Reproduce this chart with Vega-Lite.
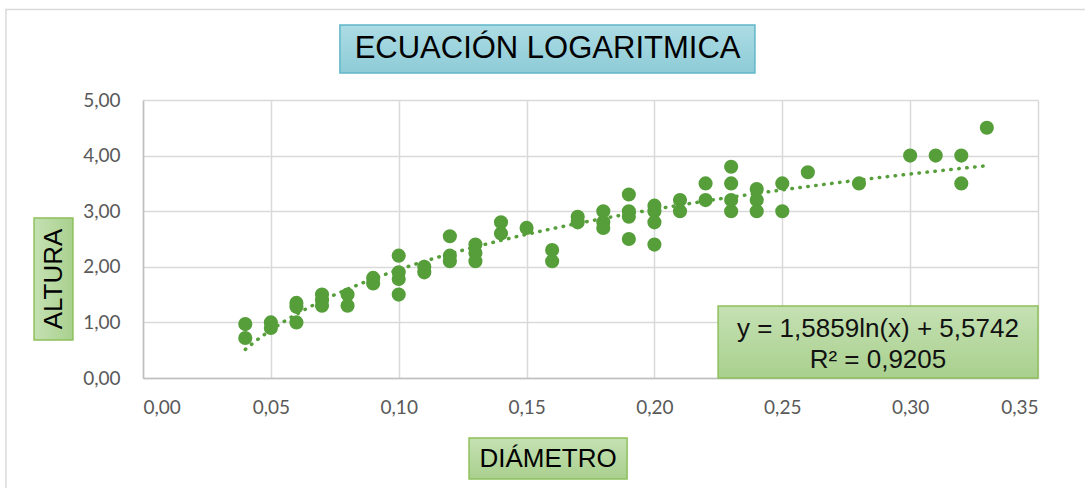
{
  "$schema": "https://vega.github.io/schema/vega-lite/v6.json",
  "autosize": "none",
  "width": 895,
  "height": 278,
  "padding": {"left": 143, "top": 100, "right": 47, "bottom": 110},
  "background": "white",
  "config": {"view": {"stroke": null}},
  "data": {
    "values": [
      {"d": 0.04, "h": 0.97}, {"d": 0.04, "h": 0.72},
      {"d": 0.05, "h": 1.0}, {"d": 0.05, "h": 0.9},
      {"d": 0.06, "h": 1.35}, {"d": 0.06, "h": 1.28}, {"d": 0.06, "h": 1.0},
      {"d": 0.07, "h": 1.5}, {"d": 0.07, "h": 1.4}, {"d": 0.07, "h": 1.3},
      {"d": 0.08, "h": 1.5}, {"d": 0.08, "h": 1.3},
      {"d": 0.09, "h": 1.8}, {"d": 0.09, "h": 1.7},
      {"d": 0.10, "h": 2.2}, {"d": 0.10, "h": 1.9}, {"d": 0.10, "h": 1.78}, {"d": 0.10, "h": 1.5},
      {"d": 0.11, "h": 2.0}, {"d": 0.11, "h": 1.9},
      {"d": 0.12, "h": 2.55}, {"d": 0.12, "h": 2.2}, {"d": 0.12, "h": 2.1},
      {"d": 0.13, "h": 2.4}, {"d": 0.13, "h": 2.25}, {"d": 0.13, "h": 2.1},
      {"d": 0.14, "h": 2.8}, {"d": 0.14, "h": 2.6},
      {"d": 0.15, "h": 2.7},
      {"d": 0.16, "h": 2.3}, {"d": 0.16, "h": 2.1},
      {"d": 0.17, "h": 2.9}, {"d": 0.17, "h": 2.8},
      {"d": 0.18, "h": 3.0}, {"d": 0.18, "h": 2.8}, {"d": 0.18, "h": 2.7},
      {"d": 0.19, "h": 3.3}, {"d": 0.19, "h": 3.0}, {"d": 0.19, "h": 2.9}, {"d": 0.19, "h": 2.5},
      {"d": 0.20, "h": 3.1}, {"d": 0.20, "h": 3.0}, {"d": 0.20, "h": 2.8}, {"d": 0.20, "h": 2.4},
      {"d": 0.21, "h": 3.2}, {"d": 0.21, "h": 3.0},
      {"d": 0.22, "h": 3.5}, {"d": 0.22, "h": 3.2},
      {"d": 0.23, "h": 3.8}, {"d": 0.23, "h": 3.5}, {"d": 0.23, "h": 3.2}, {"d": 0.23, "h": 3.0},
      {"d": 0.24, "h": 3.4}, {"d": 0.24, "h": 3.2}, {"d": 0.24, "h": 3.0},
      {"d": 0.25, "h": 3.5}, {"d": 0.25, "h": 3.0},
      {"d": 0.26, "h": 3.7},
      {"d": 0.28, "h": 3.5},
      {"d": 0.30, "h": 4.0},
      {"d": 0.31, "h": 4.0},
      {"d": 0.32, "h": 4.0}, {"d": 0.32, "h": 3.5},
      {"d": 0.33, "h": 4.5}
    ]
  },
  "layer": [
    {
      "mark": {"type": "point", "filled": true, "size": 200, "opacity": 1, "color": "#559E3A"},
      "encoding": {
        "x": {
          "field": "d", "type": "quantitative",
          "scale": {"domain": [0, 0.35], "nice": false, "zero": false},
          "axis": {
            "title": null,
            "values": [0, 0.05, 0.1, 0.15, 0.2, 0.25, 0.3, 0.35],
            "labelExpr": "replace(format(datum.value, '.2f'), '.', ',')",
            "labelFont": "Lato", "labelFontSize": 19, "labelColor": "#595959",
            "labelPadding": 20, "ticks": false, "tickSize": 0,
            "domainColor": "#bfbfbf", "domainWidth": 1.5,
            "gridColor": "#d9d9d9", "gridWidth": 1.5, "grid": true
          }
        },
        "y": {
          "field": "h", "type": "quantitative",
          "scale": {"domain": [0, 5], "nice": false, "zero": false},
          "axis": {
            "title": null,
            "values": [0, 1, 2, 3, 4, 5],
            "labelExpr": "replace(format(datum.value, '.2f'), '.', ',')",
            "labelFont": "Lato", "labelFontSize": 19, "labelColor": "#595959",
            "labelPadding": 23, "ticks": false, "tickSize": 0,
            "domainColor": "#bfbfbf", "domainWidth": 1.5,
            "gridColor": "#d9d9d9", "gridWidth": 1.5, "grid": true
          }
        }
      }
    },
    {
      "data": {"values": [{}]},
      "mark": {"type": "rect", "fill": null, "stroke": "#d9d9d9", "strokeWidth": 1.5},
      "encoding": {
        "x": {"datum": -0.0536, "type": "quantitative"},
        "x2": {"datum": 0.374},
        "y": {"datum": 6.628, "type": "quantitative"},
        "y2": {"datum": -2.2}
      }
    },
    {
      "transform": [{"regression": "h", "on": "d", "method": "log", "extent": [0.04, 0.33]}],
      "mark": {"type": "line", "color": "#559E3A", "strokeWidth": 3.5, "strokeDash": [0.5, 7.5], "strokeCap": "round"},
      "encoding": {
        "x": {"field": "d", "type": "quantitative"},
        "y": {"field": "h", "type": "quantitative"}
      }
    },
    {
      "data": {"values": [{}]},
      "mark": {
        "type": "rect", "stroke": "#8dc05a", "strokeWidth": 1.5,
        "fill": {"gradient": "linear", "x1": 0, "y1": 0, "x2": 0, "y2": 1,
                 "stops": [{"offset": 0, "color": "#c5e1b3"}, {"offset": 1, "color": "#a9d08e"}]}
      },
      "encoding": {
        "x": {"datum": 0.2249, "type": "quantitative"},
        "x2": {"datum": 0.35},
        "y": {"datum": 1.295, "type": "quantitative"},
        "y2": {"datum": 0.0}
      }
    },
    {
      "data": {"values": [{}]},
      "mark": {"type": "text", "font": "Liberation Sans", "fontSize": 26, "color": "#111111", "align": "center", "baseline": "middle"},
      "encoding": {
        "x": {"datum": 0.2874, "type": "quantitative"},
        "y": {"datum": 0.881, "type": "quantitative"},
        "text": {"value": "y = 1,5859ln(x) + 5,5742"}
      }
    },
    {
      "data": {"values": [{}]},
      "mark": {"type": "text", "font": "Liberation Sans", "fontSize": 26, "color": "#111111", "align": "center", "baseline": "middle"},
      "encoding": {
        "x": {"datum": 0.2874, "type": "quantitative"},
        "y": {"datum": 0.324, "type": "quantitative"},
        "text": {"value": "R² = 0,9205"}
      }
    },
    {
      "data": {"values": [{}]},
      "mark": {
        "type": "rect", "stroke": "#5fb7c8", "strokeWidth": 1.5,
        "fill": {"gradient": "linear", "x1": 0, "y1": 0, "x2": 0, "y2": 1,
                 "stops": [{"offset": 0, "color": "#addce4"}, {"offset": 1, "color": "#8dcbd7"}]}
      },
      "encoding": {
        "x": {"datum": 0.0770, "type": "quantitative"},
        "x2": {"datum": 0.2393},
        "y": {"datum": 6.349, "type": "quantitative"},
        "y2": {"datum": 5.486}
      }
    },
    {
      "data": {"values": [{}]},
      "mark": {"type": "text", "font": "Liberation Sans", "fontSize": 31, "color": "#000000", "align": "center", "baseline": "middle"},
      "encoding": {
        "x": {"datum": 0.1582, "type": "quantitative"},
        "y": {"datum": 5.917, "type": "quantitative"},
        "text": {"value": "ECUACIÓN LOGARITMICA"}
      }
    },
    {
      "data": {"values": [{}]},
      "mark": {
        "type": "rect", "stroke": "#8dc05a", "strokeWidth": 1.5,
        "fill": {"gradient": "linear", "x1": 0, "y1": 0, "x2": 1, "y2": 0,
                 "stops": [{"offset": 0, "color": "#c5e1b3"}, {"offset": 1, "color": "#a9d08e"}]}
      },
      "encoding": {
        "x": {"datum": -0.0426, "type": "quantitative"},
        "x2": {"datum": -0.0274},
        "y": {"datum": 2.878, "type": "quantitative"},
        "y2": {"datum": 0.683}
      }
    },
    {
      "data": {"values": [{}]},
      "mark": {"type": "text", "font": "Liberation Sans", "fontSize": 26, "color": "#000000", "align": "center", "baseline": "middle", "angle": 270},
      "encoding": {
        "x": {"datum": -0.035, "type": "quantitative"},
        "y": {"datum": 1.781, "type": "quantitative"},
        "text": {"value": "ALTURA"}
      }
    },
    {
      "data": {"values": [{}]},
      "mark": {
        "type": "rect", "stroke": "#8dc05a", "strokeWidth": 1.5,
        "fill": {"gradient": "linear", "x1": 0, "y1": 0, "x2": 0, "y2": 1,
                 "stops": [{"offset": 0, "color": "#c5e1b3"}, {"offset": 1, "color": "#a9d08e"}]}
      },
      "encoding": {
        "x": {"datum": 0.1275, "type": "quantitative"},
        "x2": {"datum": 0.1893},
        "y": {"datum": -1.079, "type": "quantitative"},
        "y2": {"datum": -1.817}
      }
    },
    {
      "data": {"values": [{}]},
      "mark": {"type": "text", "font": "Liberation Sans", "fontSize": 26, "color": "#000000", "align": "center", "baseline": "middle"},
      "encoding": {
        "x": {"datum": 0.1584, "type": "quantitative"},
        "y": {"datum": -1.448, "type": "quantitative"},
        "text": {"value": "DIÁMETRO"}
      }
    }
  ]
}
